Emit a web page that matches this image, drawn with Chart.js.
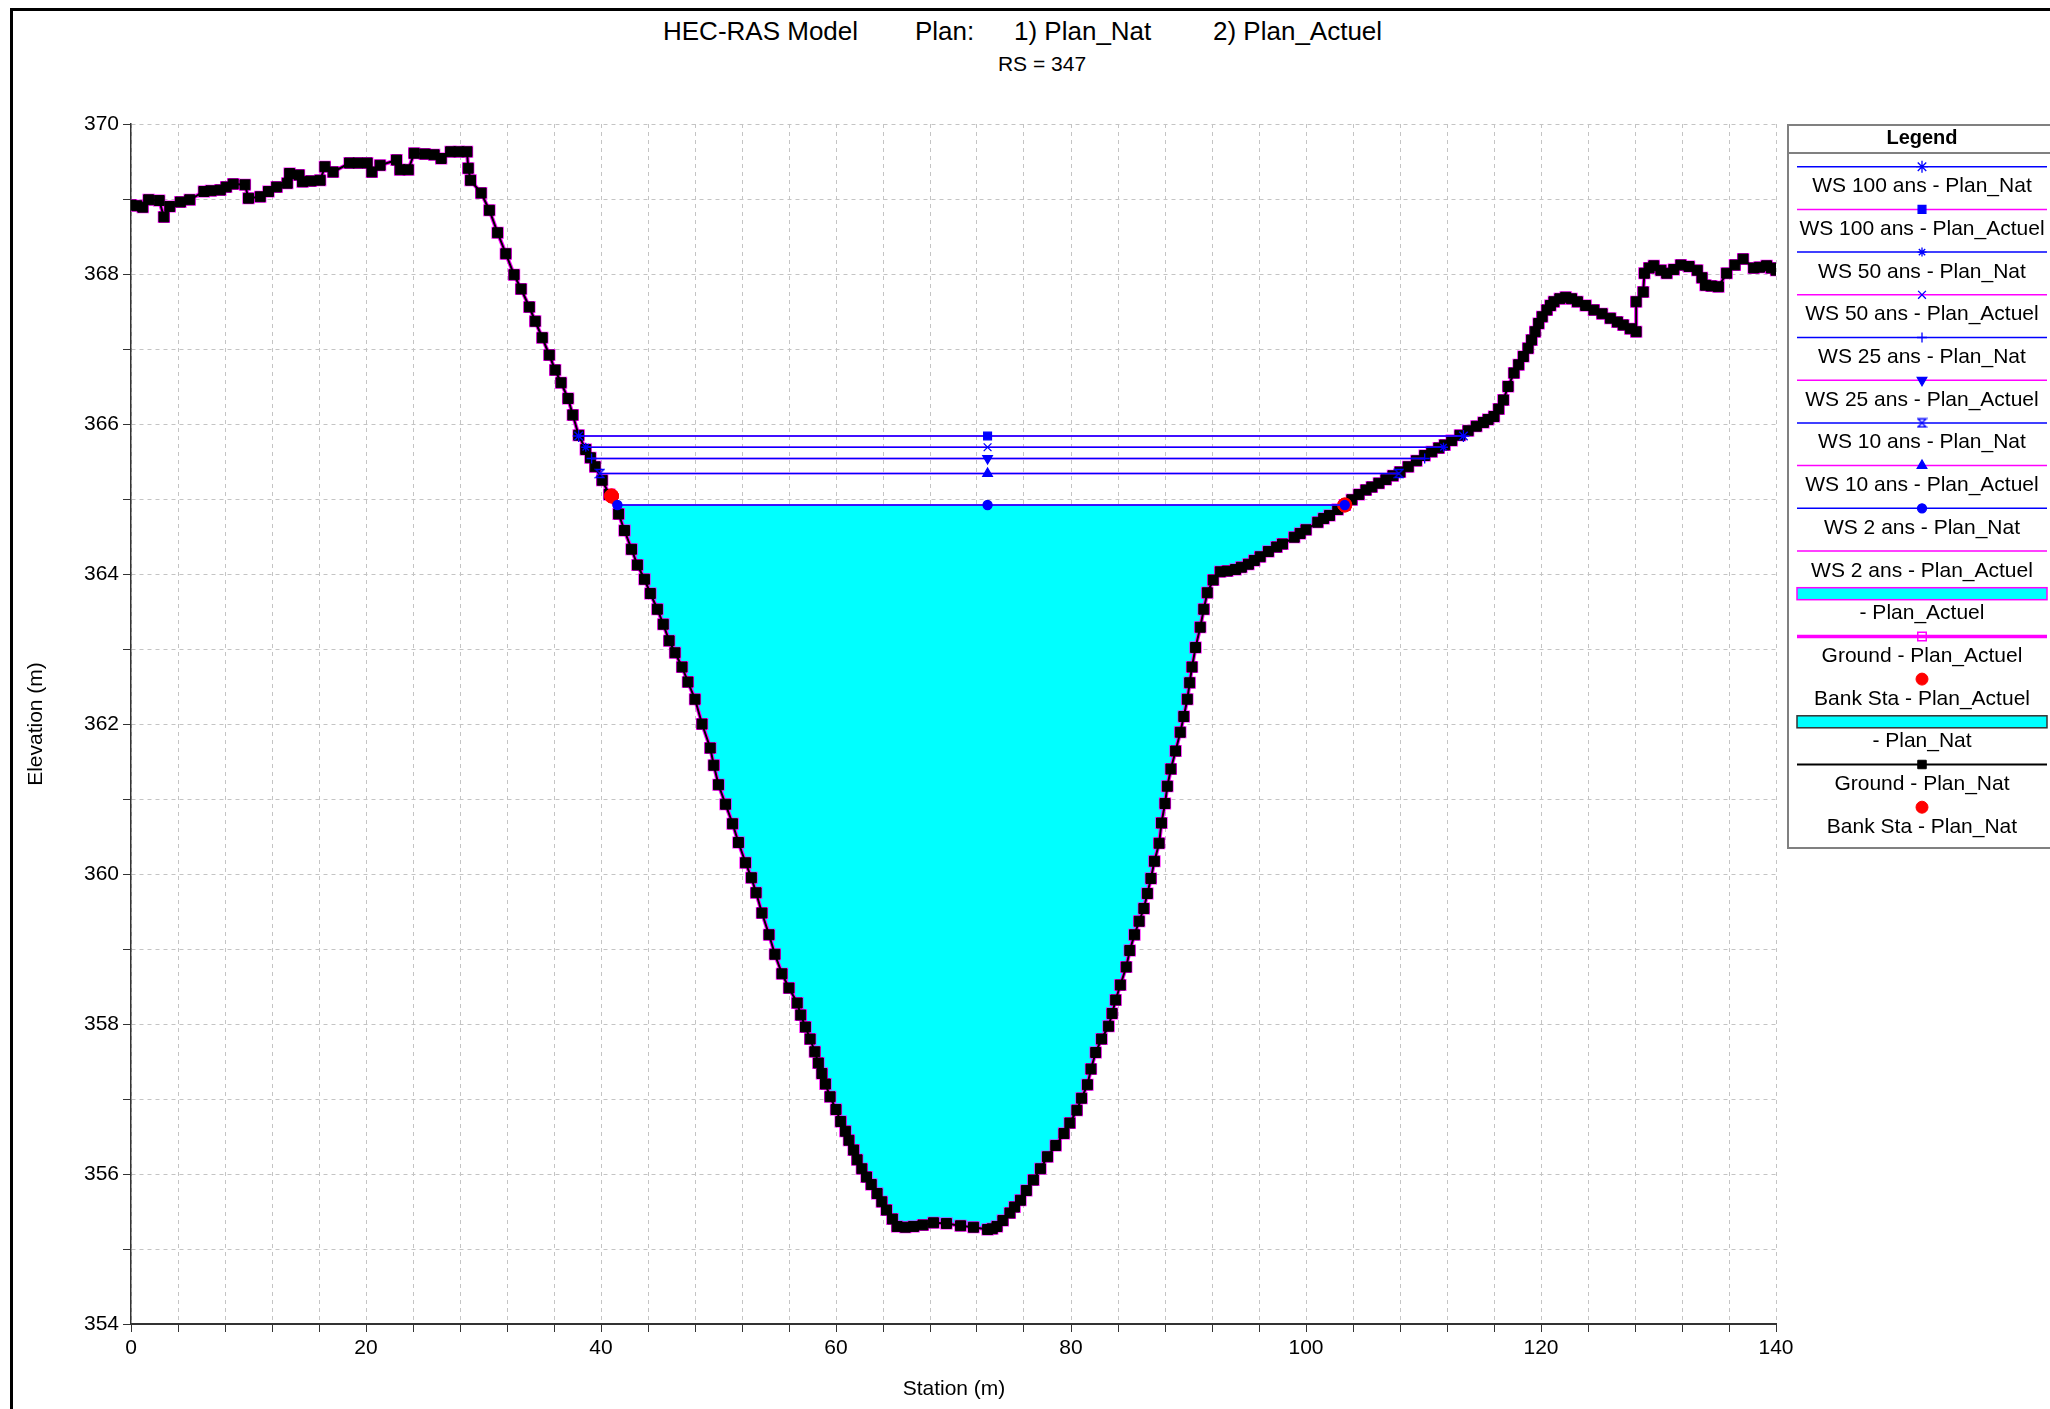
<!DOCTYPE html>
<html lang="fr">
<head>
<meta charset="UTF-8">
<title>HEC-RAS Model - RS = 347</title>
<script src="https://cdn.jsdelivr.net/npm/chart.js"></script>
<style>
    body { margin: 0; width: 2050px; height: 1409px; overflow: hidden; background: #fff; position: relative;
           font-family: "Liberation Sans", Arial, sans-serif; color: #000; }
    .cadre { position: absolute; left: 10px; top: 8px; width: 2100px; height: 1500px; border: 3px solid #000; }
    .txt { position: absolute; white-space: nowrap; }
    .titre { font-size: 26px; line-height: 30px; top: 16px; }
    #graphe { position: absolute; left: 0; top: 0; }
    #boite_legende { position: absolute; left: 1787px; top: 124px; width: 290px; height: 725px;
                     border: 2px solid #808080; box-sizing: border-box; }
    #canvas_legende { position: absolute; left: 0; top: 0; }
    .leg { font-size: 21px; line-height: 24px; width: 300px; text-align: center; left: 1772px; }
</style>
</head>
<body>
    <div class="cadre"></div>

    <span class="txt titre" style="left:663px">HEC-RAS Model</span>
    <span class="txt titre" style="left:915px">Plan:</span>
    <span class="txt titre" style="left:1014px">1) Plan_Nat</span>
    <span class="txt titre" style="left:1213px">2) Plan_Actuel</span>
    <span class="txt" style="left:992px; top:52px; width:100px; text-align:center; font-size:21px; line-height:24px">RS = 347</span>

    <canvas id="graphe" width="2050" height="1409"></canvas>

    <span class="txt" style="left:889px; top:1376px; width:130px; text-align:center; font-size:21px; line-height:24px">Station (m)</span>
    <span class="txt" style="left:-30px; top:712px; width:130px; text-align:center; font-size:21px; line-height:24px; transform:rotate(-90deg)">Elevation (m)</span>

    <div id="boite_legende"></div>
    <canvas id="canvas_legende" width="290" height="725" style="left:1787px; top:124px"></canvas>
    <div id="textes_legende"></div>

<script>
    // profil en travers (station m, cote m) - identique pour les deux plans
    var stations = [
        0, 0.5, 1.0, 1.5, 2.4, 2.8, 3.3, 4.2, 5.0, 6.2, 6.8, 7.6, 8.1, 8.7, 9.7, 10.0, 11.0, 11.7, 12.4, 13.3,
        13.5, 14.3, 14.6, 15.3, 16.1, 16.5, 17.2, 18.6, 19.3, 20.1, 20.5, 21.2, 22.6, 22.9, 23.6, 24.1, 25.0,
        25.8, 26.4, 27.2, 27.9, 28.6,
        28.7, 28.9, 29.8, 30.5, 31.2, 31.9, 32.6, 33.2, 33.9, 34.4, 35.0, 35.6, 36.1, 36.6, 37.2, 37.6, 38.1,
        38.7, 39.1, 39.5, 40.1, 40.7, 41.5, 42.0, 42.6, 43.1, 43.7, 44.2, 44.8, 45.3, 45.8, 46.3, 46.9, 47.4,
        48.0, 48.6, 49.3, 49.6, 50.0, 50.6, 51.2, 51.7, 52.3, 52.8, 53.2, 53.7, 54.3, 54.8, 55.4, 56.0, 56.7,
        57.0, 57.4, 57.8, 58.2, 58.5, 58.8, 59.1, 59.5, 60.0, 60.4, 60.8, 61.1, 61.5, 61.8, 62.2, 62.6, 63.0,
        63.5, 63.9, 64.3, 64.8, 65.2, 65.9, 66.6, 67.4, 68.3, 69.4, 70.6, 71.7, 72.9, 73.3, 73.7, 74.2, 74.8,
        75.2, 75.7, 76.2, 76.8, 77.4, 78.0, 78.7, 79.4, 79.9, 80.5, 80.9, 81.4, 81.7, 82.1, 82.6, 83.2, 83.5,
        83.8, 84.2, 84.7, 85.0, 85.4, 85.8, 86.2, 86.5, 86.8, 87.1, 87.5, 87.7, 88.0, 88.2, 88.5, 88.9, 89.3,
        89.6, 89.9, 90.1, 90.3, 90.6, 91.0, 91.3, 91.6, 92.1, 92.7, 93.3, 94.0, 94.5, 95.1, 95.6, 96.1, 96.8,
        97.5, 98.0, 99.0, 99.5, 100.0, 101.0, 101.5, 102.0, 102.7, 103.3, 103.9, 104.5, 105.1, 105.6, 106.2,
        106.8, 107.4, 108.0, 108.7, 109.4, 110.1, 110.7, 111.3, 111.8, 112.4, 113.1, 113.8, 114.5, 115.1,
        115.5, 116.0, 116.4, 116.8, 117.2, 117.7, 118.1, 118.5, 118.9, 119.2, 119.5, 119.8, 120.1, 120.5,
        120.8, 121.1, 121.6, 122.1, 122.6, 123.1, 123.8, 124.5, 125.2, 125.9, 126.5, 127.0, 127.6, 128.1,
        128.1, 128.7, 128.8, 129.2, 129.6, 130.2, 130.7, 131.3, 131.9, 132.6, 133.3, 133.7, 134.0, 134.5,
        135.1, 135.8, 136.5, 137.2, 138.1, 138.6, 139.2, 139.6, 140.0
    ];
    var cotes = [
        368.92, 368.91, 368.89, 368.99, 368.98, 368.76, 368.90, 368.96, 368.99, 369.10, 369.11, 369.12, 369.16,
        369.20, 369.19, 369.01, 369.03, 369.10, 369.16, 369.21, 369.34, 369.32, 369.23, 369.24, 369.25, 369.43,
        369.36, 369.48, 369.48, 369.48, 369.36, 369.45, 369.52, 369.39, 369.39, 369.61, 369.60, 369.59, 369.54,
        369.63, 369.63, 369.63,
        369.41, 369.25, 369.08, 368.85, 368.55, 368.27, 367.99, 367.80, 367.56, 367.37, 367.15, 366.92, 366.72,
        366.55, 366.34, 366.12, 365.85, 365.66, 365.55, 365.43, 365.25, 365.06, 364.80, 364.58, 364.33, 364.12,
        363.93, 363.74, 363.53, 363.33, 363.11, 362.95, 362.76, 362.56, 362.33, 362.00, 361.68, 361.45, 361.19,
        360.93, 360.67, 360.42, 360.15, 359.95, 359.75, 359.48, 359.19, 358.93, 358.67, 358.48, 358.28, 358.12,
        357.96, 357.80, 357.63, 357.48, 357.34, 357.20, 357.03, 356.86, 356.70, 356.57, 356.45, 356.32, 356.19,
        356.07, 355.96, 355.86, 355.74, 355.63, 355.52, 355.40, 355.30, 355.29, 355.30, 355.32, 355.35, 355.34,
        355.31, 355.29, 355.26, 355.27, 355.30, 355.38, 355.48, 355.56, 355.65, 355.78, 355.92, 356.07, 356.23,
        356.38, 356.54, 356.68, 356.85, 357.01, 357.19, 357.40, 357.62, 357.80, 357.97, 358.14, 358.32, 358.52,
        358.76, 358.98, 359.19, 359.37, 359.54, 359.74, 359.94, 360.17, 360.41, 360.68, 360.94, 361.17, 361.40,
        361.64, 361.89, 362.10, 362.33, 362.55, 362.76, 363.02, 363.29, 363.53, 363.75, 363.92, 364.03, 364.04,
        364.06, 364.09, 364.13, 364.18, 364.23, 364.30, 364.36, 364.40, 364.49, 364.54, 364.59, 364.69, 364.74,
        364.78, 364.86, 364.92, 364.99, 365.06, 365.12, 365.16, 365.21, 365.26, 365.31, 365.36, 365.43, 365.51,
        365.58, 365.63, 365.68, 365.72, 365.78, 365.85, 365.91, 365.97, 366.02, 366.06, 366.10, 366.20, 366.32,
        366.50, 366.68, 366.79, 366.90, 367.01, 367.12, 367.23, 367.34, 367.43, 367.52, 367.58, 367.63, 367.67,
        367.69, 367.67, 367.63, 367.58, 367.52, 367.47, 367.41, 367.36, 367.32, 367.27, 367.23,
        367.63, 367.76, 368.01, 368.08, 368.11, 368.05, 368.01, 368.06, 368.12, 368.10, 368.05, 367.95, 367.85,
        367.84, 367.83, 368.01, 368.12, 368.20, 368.08, 368.09, 368.11, 368.08, 368.05
    ];

    // lignes d'eau
    var crues = ['WS 100 ans', 'WS 50 ans', 'WS 25 ans', 'WS 10 ans', 'WS 2 ans'];
    var cotesEau = [365.84, 365.69, 365.54, 365.34, 364.92];
    var eauGauche = [38.1, 38.7, 39.2, 39.9, 41.4];
    var eauDroite = [113.4, 111.7, 110.1, 107.9, 103.3];
    var stationSymbole = 72.9;

    // berges
    var bergesSta = [40.9, 103.3];
    var bergesCote = [365.04, 364.92];

    var BLEU = '#0000ff', MAGENTA = '#ff00ff', CYAN = '#00ffff', ROUGE = '#ff0000';

    var terrain = stations.map(function (s, i) { return { x: s, y: cotes[i] } });
    var berges = bergesSta.map(function (s, i) { return { x: s, y: bergesCote[i] } });

    function ligneEau(i) {
        return [{ x: eauGauche[i], y: cotesEau[i] }, { x: stationSymbole, y: cotesEau[i] }, { x: eauDroite[i], y: cotesEau[i] }];
    }

    // surface mouillee de la crue de 2 ans
    var i2 = crues.length - 1;
    var mouille = [{ x: eauGauche[i2], y: cotesEau[i2] }]
        .concat(terrain.filter(function (p) { return p.x > eauGauche[i2] && p.x < eauDroite[i2] }))
        .concat([{ x: eauDroite[i2], y: cotesEau[i2] }]);

    function sablier(couleur) {
        var c = document.createElement('canvas');
        c.width = 11; c.height = 11;
        var g = c.getContext('2d');
        g.strokeStyle = couleur; g.lineWidth = 1.3;
        g.beginPath();
        g.moveTo(1.5, 1.5); g.lineTo(9.5, 1.5); g.lineTo(1.5, 9.5); g.lineTo(9.5, 9.5); g.closePath();
        g.stroke();
        return c;
    }

    var symNat = ['star', 'star', 'cross', sablier(BLEU), 'circle'];
    var taillesNat = [6, 4.5, 5, 5, 4.5];
    var symActuel = ['rect', 'crossRot', 'triangle', 'triangle', null];
    var rotActuel = [0, 0, 180, 0, 0];

    var jeux = [];
    for (var i = 0; i < crues.length; i++) {
        var r = taillesNat[i];
        jeux.push({
            label: crues[i] + ' - Plan_Nat', data: ligneEau(i),
            borderColor: BLEU, borderWidth: 1.5, fill: false,
            pointStyle: symNat[i], pointRadius: i == i2 ? [r, r, r] : [r, 0, r],
            pointBackgroundColor: BLEU, pointBorderColor: BLEU, pointBorderWidth: 1.3, order: 50
        });
        jeux.push({
            label: crues[i] + ' - Plan_Actuel', data: ligneEau(i),
            borderColor: MAGENTA, borderWidth: 1.5, fill: false,
            pointStyle: symActuel[i] || 'circle', pointRadius: symActuel[i] ? [0, 5.5, 0] : 0,
            pointRotation: rotActuel[i],
            pointBackgroundColor: BLEU, pointBorderColor: BLEU, pointBorderWidth: 1.3, order: 60
        });
    }
    jeux.push({
        label: '- Plan_Actuel', data: mouille, borderWidth: 0, cadreLegende: MAGENTA,
        backgroundColor: CYAN, fill: { value: cotesEau[i2] }, pointRadius: 0, order: 99
    });
    jeux.push({
        label: 'Ground - Plan_Actuel', data: terrain, borderColor: MAGENTA, borderWidth: 4, fill: false,
        pointStyle: 'rect', pointRadius: 7.6, pointBackgroundColor: 'rgba(0,0,0,0)',
        pointBorderColor: MAGENTA, pointBorderWidth: 1.5, order: 90
    });
    jeux.push({
        label: 'Bank Sta - Plan_Actuel', data: berges, showLine: false, fill: false,
        pointStyle: 'circle', pointRadius: 7, pointBackgroundColor: ROUGE, pointBorderColor: ROUGE, order: 70
    });
    jeux.push({
        label: '- Plan_Nat', data: mouille, borderWidth: 0, cadreLegende: '#333',
        backgroundColor: CYAN, fill: { value: cotesEau[i2] }, pointRadius: 0, order: 100
    });
    jeux.push({
        label: 'Ground - Plan_Nat', data: terrain, borderColor: '#000', borderWidth: 2, fill: false,
        pointStyle: 'rect', pointRadius: 7, pointBackgroundColor: '#000',
        pointBorderColor: '#000', pointBorderWidth: 1, order: 80
    });
    jeux.push({
        label: 'Bank Sta - Plan_Nat', data: berges, showLine: false, fill: false,
        pointStyle: 'circle', pointRadius: 7, pointBackgroundColor: ROUGE, pointBorderColor: ROUGE, order: 71
    });

    Chart.defaults.font.family = '"Liberation Sans", Arial, sans-serif';
    Chart.defaults.color = '#000';

    var graphe = new Chart(document.getElementById('graphe'), {
        type: 'line',
        data: { datasets: jeux },
        options: {
            responsive: false,
            animation: false,
            devicePixelRatio: 1,
            elements: { line: { tension: 0 } },
            layout: { padding: { left: 0, top: 124, right: 274, bottom: 0 } },
            plugins: { legend: { display: false }, tooltip: { enabled: false } },
            scales: {
                x: {
                    type: 'linear', min: 0, max: 140,
                    afterFit: function (axe) { axe.height = 85 },
                    ticks: {
                        stepSize: 4, autoSkip: false, maxRotation: 0, padding: 4, font: { size: 21 },
                        callback: function (v) { return v % 20 == 0 ? v : '' }
                    },
                    grid: { color: '#c4c4c4', lineWidth: 1, tickColor: '#333', tickLength: 8 },
                    border: { color: '#333', width: 2, dash: [4, 4] }
                },
                y: {
                    type: 'linear', min: 354, max: 370,
                    afterFit: function (axe) { axe.width = 131 },
                    ticks: {
                        stepSize: 1, autoSkip: false, padding: 4, font: { size: 21 },
                        callback: function (v) { return v % 2 == 0 ? v : '' }
                    },
                    grid: { color: '#c4c4c4', lineWidth: 1, tickColor: '#333', tickLength: 8 },
                    border: { color: '#333', width: 1.5, dash: [4, 4] }
                }
            }
        }
    });

    // legende a droite, construite a partir des jeux de donnees
    function dessinerLegende() {
        var cv = document.getElementById('canvas_legende');
        var ctx = cv.getContext('2d');
        var x0 = 1787, y0 = 124;
        var gauche = 1797 - x0, droite = 2047 - x0, milieu = 1922 - x0;
        var html = '<span class="txt" style="left:1772px; width:300px; text-align:center; top:125px; font-size:20px; line-height:24px; font-weight:bold">Legend</span>';

        ctx.strokeStyle = '#808080'; ctx.lineWidth = 2;
        ctx.beginPath(); ctx.moveTo(0, 153 - y0); ctx.lineTo(cv.width, 153 - y0); ctx.stroke();

        graphe.data.datasets.forEach(function (d, k) {
            var yl = 166.7 + 42.7 * k;
            var y = yl - y0;
            if (d.fill) {
                ctx.fillStyle = d.backgroundColor;
                ctx.fillRect(gauche, y - 6, droite - gauche, 12);
                ctx.strokeStyle = d.cadreLegende; ctx.lineWidth = 1.5;
                ctx.strokeRect(gauche, y - 6, droite - gauche, 12);
            } else {
                if (d.showLine !== false) {
                    ctx.strokeStyle = d.borderColor; ctx.lineWidth = Math.min(d.borderWidth, 3.5);
                    ctx.beginPath(); ctx.moveTo(gauche, y); ctx.lineTo(droite, y); ctx.stroke();
                }
                var rr = Array.isArray(d.pointRadius) ? Math.max.apply(null, d.pointRadius) : d.pointRadius;
                if (rr > 0) {
                    ctx.fillStyle = d.pointBackgroundColor; ctx.strokeStyle = d.pointBorderColor;
                    ctx.lineWidth = d.pointBorderWidth || 1;
                    var rl = d.label.indexOf('Bank') == 0 ? 6 : Math.min(rr, 6);
                    Chart.helpers.drawPoint(ctx, {
                        pointStyle: d.pointStyle, rotation: d.pointRotation || 0,
                        radius: rl, borderWidth: ctx.lineWidth
                    }, milieu, y);
                }
            }
            html += '<span class="txt leg" style="top:' + (yl + 18.5 - 12).toFixed(1) + 'px">' + d.label + '</span>';
        });
        document.getElementById('textes_legende').innerHTML = html;
    }
    dessinerLegende();
</script>
</body>
</html>
